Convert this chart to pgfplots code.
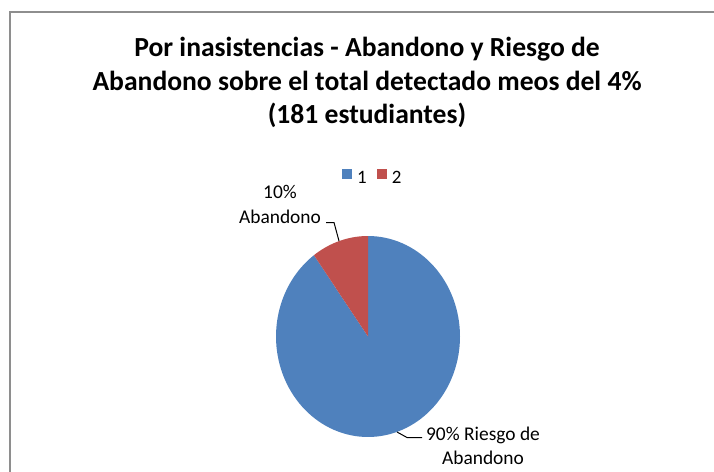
\documentclass[border=0pt]{standalone}
\usepackage{pgfplots}
\pgfplotsset{compat=1.18}
\usepackage{fontspec}
\setmainfont{Carlito}
\definecolor{pieblue}{HTML}{4F81BD}
\definecolor{piered}{HTML}{C0504D}
\definecolor{framegray}{HTML}{8E8E8E}
% data: share of each category (percent)
\def\valA{90}
\def\valB{10}
\pgfmathsetmacro{\total}{\valA+\valB}
\pgfmathsetmacro{\endA}{90-360*(\valA/\total)}
\pgfmathsetmacro{\endB}{90+360*(\valB/\total)}
\begin{document}
\begin{tikzpicture}
\path[use as bounding box] (0,0) rectangle (714bp,472bp);
\begin{axis}[
  at={(0,0)}, anchor=south west,
  width=714bp, height=472bp, scale only axis,
  xmin=0, xmax=714, ymin=0, ymax=472, y dir=reverse,
  hide axis, clip=false,
  legend columns=2,
  legend style={draw=none, fill=none, at={(axis cs:342,176.8)}, anchor=west,
    inner sep=0pt, nodes={font=\fontsize{19}{22}\selectfont, inner sep=0pt},
    /tikz/every even column/.append style={column sep=10bp}},
  legend cell align=left,
  legend image code/.code={\fill[#1] (0bp,-0.5bp) rectangle (10bp,9.5bp); \path (15bp,0bp);},
]
% frame
\draw[framegray, line width=1.6bp] (axis cs:10,480) -- (axis cs:10,12) -- (axis cs:720,12);
\addplot[fill=pieblue, draw=none, domain=\endA:90, samples=120, variable=\t]
  ({368+92*cos(t)},{336.5-100.5*sin(t)}) -- (axis cs:368,336.5) -- cycle;
\addlegendentry{1}
\addplot[fill=piered, draw=none, domain=90:\endB, samples=30, variable=\t]
  ({368+92*cos(t)},{336.5-100.5*sin(t)}) -- (axis cs:368,336.5) -- cycle;
\addlegendentry{2}
% title
\node[align=center, font=\fontsize{27.7}{33.5}\selectfont\bfseries, anchor=base]
  at (axis cs:367,123.5) {Por inasistencias - Abandono y Riesgo de\\Abandono sobre el total detectado meos del 4\%\\(181 estudiantes)};
% data labels
\node[align=center, font=\fontsize{19.5}{25}\selectfont, anchor=base]
  at (axis cs:280,223) {10\%\\Abandono};
\node[align=center, font=\fontsize{19.5}{24}\selectfont, anchor=base]
  at (axis cs:483,464) {90\% Riesgo de\\Abandono};
% leader lines
\draw[black, line width=1bp] (axis cs:326,222.5) -- (axis cs:334,222.5) -- (axis cs:339,241);
\draw[black, line width=1bp] (axis cs:397,432) -- (axis cs:407,437.5) -- (axis cs:422,437.5);
\end{axis}
\end{tikzpicture}
\end{document}
